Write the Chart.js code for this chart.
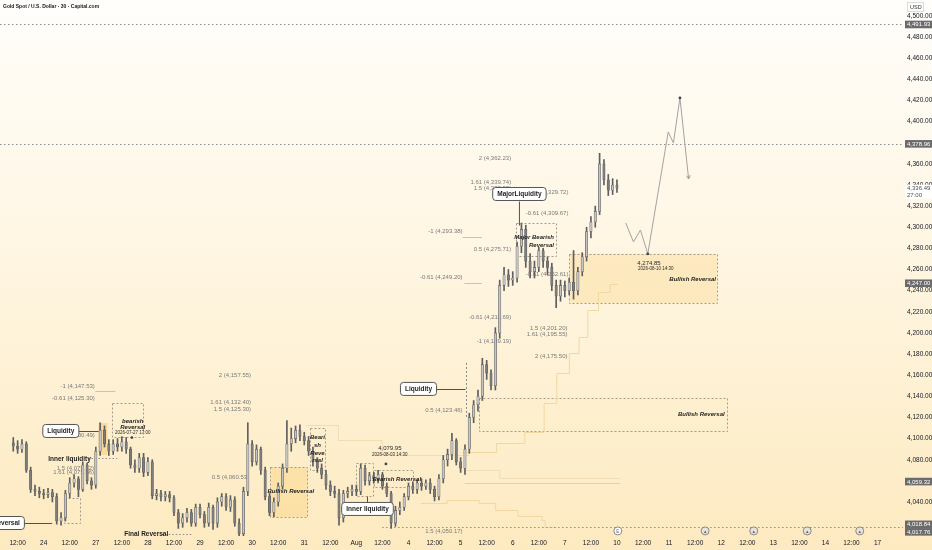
<!DOCTYPE html>
<html>
<head>
<meta charset="utf-8">
<script src="https://cdn.jsdelivr.net/npm/chart.js@4.4.1/dist/chart.umd.min.js"></script>
<style>
  html, body { margin: 0; padding: 0; background: #fffdf8; }
  #wrap { width: 932px; height: 550px; }
</style>
</head>
<body>
<div id="wrap"><canvas id="chart" width="932" height="550"></canvas></div>
<script>
// XAUUSD, candles at 2h spacing (slot 0 = Jul 23 10:00)
const opens = [
  4096,4093,4090,4095,4070,4052,4050,4048,4047,4049,
  4045,4022,4025,4048,4058,4062,4052,4075,4060,4056,
  4088,4108,4095,4088,4095,4092,4097,4090,4075,4072,
  4082,4068,4078,4046,4048,4045,4047,4044,4030,4020,
  4025,4030,4020,4035,4028,4020,4035,4020,4040,4045,
  4035,4042,4020,4010,4050,4095,4078,4090,4070,4045,
  4030,4040,4055,4072,4095,4100,4108,4102,4098,4088,
  4078,4072,4066,4056,4050,4048,4025,4048,4050,4052,
  4050,4072,4060,4065,4062,4066,4055,4048,4020,4032,
  4035,4045,4055,4052,4058,4055,4058,4052,4045,4062,
  4080,4085,4098,4078,4072,4090,4120,4132,4140,4170,
  4162,4150,4200,4245,4255,4250,4252,4282,4298,4268,
  4258,4262,4278,4268,4262,4245,4235,4245,4240,4248,
  4240,4258,4272,4296,4305,4315,4360,4345,4335,4340
];
const highs = [
  4101,4098,4099,4097,4073,4056,4054,4052,4053,4052,
  4048,4030,4051,4063,4066,4064,4078,4077,4063,4092,
  4115,4112,4099,4099,4100,4102,4101,4092,4080,4086,
  4086,4082,4080,4052,4051,4050,4050,4046,4033,4029,
  4034,4033,4038,4038,4031,4039,4037,4044,4048,4048,
  4046,4045,4024,4054,4115,4098,4094,4092,4073,4048,
  4044,4058,4076,4117,4110,4112,4113,4106,4102,4092,
  4082,4076,4070,4060,4055,4052,4051,4054,4056,4056,
  4076,4075,4068,4068,4070,4068,4058,4050,4036,4040,
  4048,4058,4059,4061,4062,4061,4062,4055,4066,4084,
  4090,4105,4100,4082,4094,4124,4136,4146,4176,4174,
  4165,4205,4250,4262,4260,4258,4286,4304,4302,4275,
  4268,4281,4280,4272,4266,4250,4250,4249,4252,4278,
  4262,4276,4300,4310,4320,4370,4364,4350,4346,4345
];
const lows = [
  4088,4086,4087,4068,4049,4046,4044,4043,4044,4040,
  4019,4018,4022,4044,4054,4045,4050,4057,4052,4053,
  4084,4092,4084,4085,4088,4088,4086,4072,4068,4068,
  4064,4065,4043,4042,4041,4041,4040,4027,4015,4016,
  4021,4017,4017,4025,4016,4017,4014,4016,4036,4032,
  4031,4017,4007,4008,4046,4074,4075,4066,4042,4027,
  4026,4036,4052,4068,4088,4096,4098,4094,4084,4074,
  4068,4062,4052,4046,4044,4018,4021,4044,4046,4046,
  4047,4056,4056,4058,4058,4052,4045,4015,4017,4028,
  4032,4042,4048,4048,4051,4052,4048,4041,4042,4058,
  4074,4080,4075,4068,4066,4086,4115,4126,4136,4156,
  4146,4146,4195,4240,4244,4245,4248,4276,4262,4252,
  4252,4258,4262,4255,4240,4224,4230,4234,4236,4232,
  4236,4254,4268,4290,4300,4312,4340,4330,4331,4333
];
const closes = [
  4093,4090,4095,4070,4052,4050,4048,4047,4049,4045,
  4022,4025,4048,4058,4062,4052,4075,4060,4056,4088,
  4108,4095,4088,4095,4092,4097,4090,4075,4072,4082,
  4068,4078,4046,4048,4045,4047,4044,4030,4020,4025,
  4030,4020,4035,4028,4020,4035,4020,4040,4045,4035,
  4042,4020,4010,4050,4095,4078,4090,4070,4045,4030,
  4040,4055,4072,4095,4100,4108,4102,4098,4088,4078,
  4072,4066,4056,4050,4048,4025,4048,4050,4052,4050,
  4072,4060,4065,4062,4066,4055,4048,4020,4032,4035,
  4045,4055,4052,4058,4055,4058,4052,4045,4062,4080,
  4085,4098,4078,4072,4090,4120,4132,4140,4170,4162,
  4150,4200,4245,4255,4250,4252,4282,4298,4268,4258,
  4262,4278,4268,4262,4245,4235,4245,4240,4248,4240,
  4258,4272,4296,4305,4315,4360,4345,4335,4340,4337
];

// time axis labels, one every 6 slots (12h), first one at slot 1
const tickLabels = ["12:00","24","12:00","27","12:00","28","12:00","29","12:00","30","12:00","31",
  "12:00","Aug","12:00","4","12:00","5","12:00","6","12:00","7","12:00","10","12:00","11",
  "12:00","12","12:00","13","12:00","14","12:00","17"];
const priceTicks = [4040,4080,4100,4120,4140,4160,4180,4200,4220,4240,4260,4280,4300,4320,
  4340,4360,4400,4420,4440,4460,4480,4500];

// projected path drawn on the right (slot, price)
const projSlots = [141.0, 142.8, 144.4, 146.1, 150.8, 152.0, 153.5, 155.5];
const projPrices = [4304.1, 4286.1, 4297.4, 4274.85, 4390.2, 4379.8, 4422.4, 4345.7];

// price levels marked on the axis
const axisMarks = [4491.93, 4378.96, 4247.00, 4059.32, 4018.84, 4017.76];
const lastPrice = 4336.49;

const FONT = '"Liberation Sans", Arial, sans-serif';
const fmt = v => v.toLocaleString('en-US', { minimumFractionDigits: 2, maximumFractionDigits: 2 });

const upFill = '#c4c4c4', downFill = '#7d7d7d', edge = '#5e5e5e';

const bodies = opens.map((o, i) => ({ x: i, y: [o, closes[i]] }));
const wicks = lows.map((l, i) => ({ x: i, y: [l, highs[i]] }));
const bodyColors = opens.map((o, i) => closes[i] >= o ? upFill : downFill);

// drawings on the chart, in slot / price units
const filledZones = [
  { s0: 128.04, s1: 162.01, p0: 4274.85, p1: 4228.3, fill: 'rgba(252,220,150,0.45)' },
  { s0: 59.22, s1: 67.71, p0: 4073.1, p1: 4025.8, fill: 'rgba(250,212,130,0.45)' },
  { s0: 19.66, s1: 21.68, p0: 4114.8, p1: 4084.5, fill: 'rgba(248,196,105,0.5)' },
  { s0: 107.26, s1: 164.25, p0: 4138.4, p1: 4107.2, fill: 'rgba(255,238,200,0.25)' }
];
const dashedBoxes = [
  [128.04, 162.01, 4274.85, 4228.3],
  [59.22, 67.71, 4073.1, 4025.8],
  [107.26, 164.25, 4138.4, 4107.2],
  [11.62, 15.2, 4043.8, 4020.1],
  [78.88, 82.68, 4076.9, 4045.7],
  [22.79, 29.94, 4133.7, 4101.5],
  [68.38, 71.73, 4110.0, 4070.3],
  [83.13, 92.07, 4070.3, 4054.2],
  [115.75, 124.92, 4304.1, 4272.8]
];
const stepLines = [
  { c: '#f3d7a2', pts: [[103.46,4087.3],[111.28,4095.9],[117.77,4106.3],[122.23,4133.7],[125.14,4162.1],
    [128.04,4181.0],[130.28,4196.2],[132.29,4221.7],[134.75,4238.8],[137.43,4246.3],[139.22,4246.3]] },
  { c: '#f3d7a2', pts: [[93.85,4039.1],[99.89,4041.9],[107.26,4039.1],[111.06,4032.4],[116.2,4026.8],
    [121.79,4023.0],[122.46,4016.3],[125.14,4016.3]] },
  { c: '#f1dcb4', pts: [[67.49,4112.9],[73.74,4112.9],[74.86,4098.7],[83.8,4098.7],[84.92,4084.5],[105.03,4084.5]] },
  { c: '#f1dcb4', pts: [[103.91,4070.3],[112.0,4070.3],[112.0,4063.0],[139.66,4063.0]] },
  { c: '#d9d2c4', pts: [[103.91,4058.0],[139.66,4058.0]] }
];
const fibTexts = [
  ['-1 (4,147.53)', 18.77, 4149.8], ['-0.61 (4,125.30)', 18.77, 4138.4], ['0.5 (4,100.49)', 18.77, 4103.4],
  ['1.5 (4,079.12)', 18.6, 4072.2], ['1.61 (4,075.66)', 18.6, 4068.4],
  ['2 (4,157.55)', 54.75, 4160.2], ['1.61 (4,132.40)', 54.75, 4134.6], ['1.5 (4,125.30)', 54.75, 4128.0],
  ['0.5 (4,060.53)', 54.3, 4063.6], ['1.5 (4,050.17)', 103.46, 4012.6], ['0.5 (4,123.46)', 103.46, 4127.1],
  ['-0.61 (4,211.69)', 114.64, 4215.1], ['-1 (4,189.19)', 114.64, 4192.4],
  ['1.5 (4,201.20)', 127.6, 4204.7], ['1.61 (4,195.55)', 127.6, 4199.0], ['2 (4,175.50)', 127.6, 4178.2],
  ['-0.61 (4,252.61)', 127.82, 4255.8], ['-0.61 (4,249.20)', 103.46, 4252.9], ['0.5 (4,275.71)', 114.64, 4279.5],
  ['-1 (4,293.38)', 103.46, 4296.5], ['2 (4,362.23)', 114.64, 4365.6], ['1.61 (4,339.74)', 114.64, 4342.9],
  ['1.5 (4,332.98)', 114.64, 4337.2], ['-1 (4,329.72)', 127.82, 4333.4], ['-0.61 (4,309.67)', 127.82, 4313.5]
];
const boxLabels = [
  ['Liquidity', 10.95, 4107.2], ['Reversal', -1.6, 4020.1], ['Liquidity', 93.3, 4147.0],
  ['Inner liquidity', 81.56, 4033.4], ['MajorLiquidity', 116.54, 4331.5]
];
const connectors = [
  [13.85, 4107.2, 19.66, 4107.2], [2.23, 4020.1, 8.94, 4020.1], [96.09, 4147.0, 104.13, 4147.0],
  [116.54, 4324.9, 116.54, 4302.2], [81.56, 4039.5, 81.56, 4046.0]
];
const boldTexts = [
  ['Inner liquidity', 12.96, 4080.7, 'center', false], ['Final Reversal', 30.61, 4009.5, 'center', false],
  ['bearish', 27.5, 4116.5, 'center', true], ['Reversal', 27.5, 4111.0, 'center', true],
  ['Beari', 70.05, 4101.5, 'center', true], ['sh', 70.05, 4094.0, 'center', true],
  ['Reve', 70.05, 4086.5, 'center', true], ['rsal', 70.05, 4079.0, 'center', true],
  ['Bullish Reversal', 63.9, 4050.4, 'center', true], ['Bearish Reversal', 88.3, 4061.8, 'center', true],
  ['Major Bearish', 124.5, 4290.8, 'right', true], ['Reversal', 124.5, 4283.3, 'right', true],
  ['Bullish Reversal', 161.8, 4251.1, 'right', true], ['Bullish Reversal', 163.8, 4123.3, 'right', true]
];
const smallTexts = [
  ['2026-07-27 17:00', 27.5, 4105.6], ['4,079.95', 86.7, 4091.1], ['2026-08-03 14:30', 86.7, 4084.5],
  ['4,274.85', 146.37, 4266.2], ['2026-08-10 14:30', 147.93, 4260.5]
];
const icons = [139.2, 159.3, 170.5, 182.8, 194.9];

const backdrop = {
  id: 'backdrop',
  beforeDraw(chart) {
    const { ctx, width, height } = chart;
    const g = ctx.createLinearGradient(0, 0, 0, height);
    g.addColorStop(0, '#fffefb');
    g.addColorStop(0.45, '#fff6e3');
    g.addColorStop(1, '#fdeac0');
    ctx.save();
    ctx.fillStyle = g;
    ctx.fillRect(0, 0, width, height);
    ctx.restore();
  }
};

function hline(ctx, x0, x1, y, color, dash) {
  ctx.beginPath();
  ctx.setLineDash(dash || []);
  ctx.strokeStyle = color;
  ctx.moveTo(x0, y + 0.5);
  ctx.lineTo(x1, y + 0.5);
  ctx.stroke();
  ctx.setLineDash([]);
}

function roundBox(ctx, x, y, w, h, r) {
  ctx.beginPath();
  ctx.moveTo(x + r, y);
  ctx.lineTo(x + w - r, y);
  ctx.quadraticCurveTo(x + w, y, x + w, y + r);
  ctx.lineTo(x + w, y + h - r);
  ctx.quadraticCurveTo(x + w, y + h, x + w - r, y + h);
  ctx.lineTo(x + r, y + h);
  ctx.quadraticCurveTo(x, y + h, x, y + h - r);
  ctx.lineTo(x, y + r);
  ctx.quadraticCurveTo(x, y, x + r, y);
  ctx.closePath();
}

const drawings = {
  id: 'drawings',
  beforeDatasetsDraw(chart) {
    const { ctx, chartArea } = chart;
    const X = s => chart.scales.x.getPixelForValue(s);
    const Y = p => chart.scales.y.getPixelForValue(p);
    ctx.save();
    ctx.lineWidth = 1;

    filledZones.forEach(z => {
      ctx.fillStyle = z.fill;
      ctx.fillRect(X(z.s0), Y(z.p0), X(z.s1) - X(z.s0), Y(z.p1) - Y(z.p0));
    });
    ctx.strokeStyle = '#a59c8c';
    ctx.setLineDash([2, 2]);
    dashedBoxes.forEach(b => {
      ctx.strokeRect(Math.round(X(b[0])) + 0.5, Math.round(Y(b[2])) + 0.5,
        Math.round(X(b[1]) - X(b[0])), Math.round(Y(b[3]) - Y(b[2])));
    });
    ctx.setLineDash([]);

    stepLines.forEach(l => {
      ctx.beginPath();
      ctx.strokeStyle = l.c;
      l.pts.forEach((p, i) => {
        const x = X(p[0]), y = Math.round(Y(p[1])) + 0.5;
        if (i === 0) ctx.moveTo(x, y);
        else {
          const py = Math.round(Y(l.pts[i - 1][1])) + 0.5;
          ctx.lineTo(x, py);
          ctx.lineTo(x, y);
        }
      });
      ctx.stroke();
    });

    // long dotted levels
    hline(ctx, chartArea.left, chartArea.right, Math.round(Y(4491.93)), '#8e8e8e', [1.5, 2.5]);
    hline(ctx, chartArea.left, chartArea.right, Math.round(Y(4378.96)), '#8e8e8e', [1.5, 2.5]);
    hline(ctx, X(84.92), chartArea.right, Math.round(Y(4016.3)), '#8e8e8e', [1.5, 2.5]);
    hline(ctx, X(17.2), X(23.91), Math.round(Y(4081.6)), '#8e8e8e', [1.5, 2]);
    hline(ctx, X(34.19), X(41.34), Math.round(Y(4009.5)), '#8e8e8e', [1.5, 2]);
    hline(ctx, X(103.5), X(107.9), Math.round(Y(4290.8)), '#c9c2b5');
    hline(ctx, X(103.9), X(107.9), Math.round(Y(4247.3)), '#c9c2b5');
    hline(ctx, X(18.9), X(23.5), Math.round(Y(4145.0)), '#c9c2b5');

    // vertical dashed marker at the breakout
    ctx.beginPath();
    ctx.setLineDash([2, 2]);
    ctx.strokeStyle = '#8a8a8a';
    ctx.moveTo(Math.round(X(104.13)) + 0.5, Y(4171.6));
    ctx.lineTo(Math.round(X(104.13)) + 0.5, Y(4120.4));
    ctx.stroke();
    ctx.setLineDash([]);

    ctx.font = '6px ' + FONT;
    ctx.fillStyle = '#7a7a7a';
    ctx.textAlign = 'right';
    ctx.textBaseline = 'middle';
    fibTexts.forEach(t => ctx.fillText(t[0], X(t[1]), Y(t[2])));
    ctx.restore();
  },
  afterDatasetsDraw(chart) {
    const { ctx, chartArea, width } = chart;
    const X = s => chart.scales.x.getPixelForValue(s);
    const Y = p => chart.scales.y.getPixelForValue(p);
    ctx.save();
    ctx.lineWidth = 1;

    // connectors from label boxes
    ctx.strokeStyle = '#505050';
    connectors.forEach(c => {
      ctx.beginPath();
      ctx.moveTo(X(c[0]), Math.round(Y(c[1])) + 0.5);
      ctx.lineTo(X(c[2]), Math.round(Y(c[3])) + 0.5);
      ctx.stroke();
    });

    // projection arrow head and dots
    const n = projSlots.length;
    const ax = X(projSlots[n - 1]), ay = Y(projPrices[n - 1]);
    const bx = X(projSlots[n - 2]), by = Y(projPrices[n - 2]);
    const ang = Math.atan2(ay - by, ax - bx);
    ctx.strokeStyle = '#9c9c9c';
    ctx.beginPath();
    ctx.moveTo(ax - 4 * Math.cos(ang - 0.5), ay - 4 * Math.sin(ang - 0.5));
    ctx.lineTo(ax, ay);
    ctx.lineTo(ax - 4 * Math.cos(ang + 0.5), ay - 4 * Math.sin(ang + 0.5));
    ctx.stroke();
    ctx.fillStyle = '#444';
    [[146.1, 4274.85], [153.5, 4422.4], [85.8, 4076.0], [27.3, 4101.0]].forEach(p => {
      ctx.beginPath();
      ctx.arc(X(p[0]), Y(p[1]), 1.4, 0, Math.PI * 2);
      ctx.fill();
    });

    // boxed labels
    ctx.font = 'bold 6.5px ' + FONT;
    ctx.textAlign = 'center';
    ctx.textBaseline = 'middle';
    boxLabels.forEach(b => {
      const x = X(b[1]), y = Y(b[2]);
      const w = ctx.measureText(b[0]).width + 9, h = 13;
      roundBox(ctx, x - w / 2, y - h / 2, w, h, 3);
      ctx.fillStyle = '#ffffff';
      ctx.fill();
      ctx.strokeStyle = '#555';
      ctx.stroke();
      ctx.fillStyle = '#1e1e1e';
      ctx.fillText(b[0], x, y + 0.5);
    });

    boldTexts.forEach(t => {
      ctx.font = (t[4] ? 'italic bold 6px ' : 'bold 6.5px ') + FONT;
      ctx.textAlign = t[3];
      ctx.fillStyle = '#1e1e1e';
      ctx.fillText(t[0], X(t[1]), Y(t[2]));
    });
    ctx.textAlign = 'center';
    smallTexts.forEach(t => {
      ctx.font = (t[0].startsWith('2026') ? '4.5px ' : '6px ') + FONT;
      ctx.fillStyle = '#2a2a2a';
      ctx.fillText(t[0], X(t[1]), Y(t[2]));
    });

    // event icons along the bottom
    icons.forEach((s, i) => {
      const x = X(s), y = Y(4012.6);
      ctx.beginPath();
      ctx.arc(x, y, 4, 0, Math.PI * 2);
      ctx.fillStyle = i === 0 ? '#ffffff' : '#e9e4da';
      ctx.fill();
      ctx.strokeStyle = '#8a8a8a';
      ctx.stroke();
      ctx.fillStyle = '#666';
      ctx.font = '4.5px ' + FONT;
      ctx.fillText(i === 0 ? 'E' : '\u25B2', x, y + 0.5);
    });

    // axis price marks
    const axisX = chartArea.right + 2;
    ctx.font = '6px ' + FONT;
    ctx.textAlign = 'left';
    let prevY = -99;
    axisMarks.forEach(p => {
      let y = Y(p);
      if (y - prevY < 8) y = prevY + 7.5;
      prevY = y;
      ctx.fillStyle = '#6b6b6b';
      ctx.fillRect(axisX, y - 3.8, 27, 7.6);
      ctx.fillStyle = '#ffffff';
      ctx.fillText(fmt(p), axisX + 2, y + 0.3);
    });
    const ly = Y(lastPrice);
    ctx.fillStyle = '#ffffff';
    ctx.fillRect(axisX, ly - 4, 27, 14);
    ctx.fillStyle = '#505050';
    ctx.fillText(fmt(lastPrice), axisX + 2, ly);
    ctx.fillText('27:00', axisX + 2, ly + 6.5);

    // header
    ctx.font = '600 5px ' + FONT;
    ctx.fillStyle = '#131722';
    ctx.fillText('Gold Spot / U.S. Dollar \u00B7 30 \u00B7 Capital.com', 3, 7);
    ctx.fillStyle = '#ffffff';
    ctx.fillRect(width - 25, 2, 17, 10);
    ctx.strokeStyle = '#dcdcdc';
    ctx.strokeRect(width - 24.5, 2.5, 16, 9);
    ctx.fillStyle = '#333';
    ctx.font = '5.5px ' + FONT;
    ctx.fillText('USD', width - 22, 7.3);
    ctx.restore();
  }
};

new Chart(document.getElementById('chart'), {
  type: 'bar',
  data: {
    datasets: [
      {
        label: 'Body',
        data: bodies,
        backgroundColor: bodyColors,
        borderColor: edge,
        borderWidth: 0.6,
        borderSkipped: false,
        barThickness: 2.4,
        minBarLength: 1,
        grouped: false
      },
      {
        label: 'Wick',
        data: wicks,
        backgroundColor: edge,
        borderWidth: 0,
        barThickness: 1,
        grouped: false
      },
      {
        type: 'line',
        label: 'Projection',
        data: projSlots.map((s, i) => ({ x: s, y: projPrices[i] })),
        borderColor: '#a3a3a3',
        borderWidth: 1,
        pointRadius: 0,
        tension: 0
      }
    ]
  },
  options: {
    responsive: false,
    animation: false,
    layout: { padding: 0 },
    plugins: {
      legend: { display: false },
      tooltip: { enabled: false }
    },
    scales: {
      x: {
        type: 'linear',
        min: 0,
        max: 201.8,
        grid: { display: false, drawTicks: false },
        border: { display: false },
        afterBuildTicks: axis => { axis.ticks = tickLabels.map((t, k) => ({ value: 1 + 6 * k })); },
        afterFit: axis => { axis.height = 14; axis.paddingLeft = 0; axis.paddingRight = 0; },
        ticks: {
          autoSkip: false,
          maxRotation: 0,
          padding: 3,
          color: '#131722',
          font: { family: FONT, size: 6.5 },
          callback: (v, i) => tickLabels[i]
        }
      },
      y: {
        position: 'right',
        min: 4007.8,
        max: 4515.1,
        grid: { display: false, drawTicks: false },
        border: { display: false },
        afterBuildTicks: axis => { axis.ticks = priceTicks.map(v => ({ value: v })); },
        afterFit: axis => { axis.width = 29; axis.paddingTop = 0; axis.paddingBottom = 0; },
        ticks: {
          padding: 4,
          color: '#131722',
          font: { family: FONT, size: 6.5 },
          callback: v => fmt(v)
        }
      }
    }
  },
  plugins: [backdrop, drawings]
});
</script>
</body>
</html>
